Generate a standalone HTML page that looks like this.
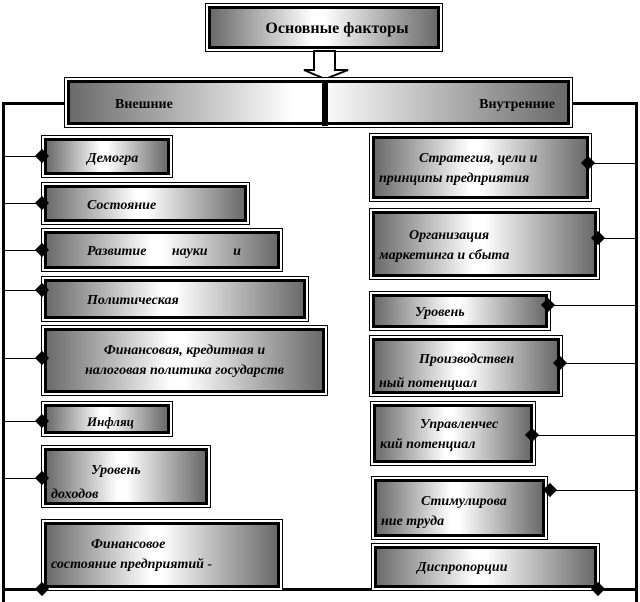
<!DOCTYPE html><html><head><meta charset="utf-8"><style>
body{margin:0;width:640px;height:602px;background:#fff;position:relative;overflow:hidden;font-family:"Liberation Serif",serif}
.b{position:absolute;box-sizing:border-box;border:1px solid #000;padding:2px;background:#fff}
.b>div{box-sizing:border-box;width:100%;height:100%;border:3px solid #000;background:linear-gradient(to right,#6a6a6a,#fff 45%,#fff 50%,#6a6a6a);font-weight:bold;font-style:italic;font-size:14px;line-height:20px;padding:4px 4px 0 4px;color:#000;overflow:hidden}
.l{position:absolute;background:#000}
.d{position:absolute;width:10px;height:10px;background:#000;transform:rotate(45deg)}
</style></head><body>
<div class="l" style="left:2px;top:102px;width:3px;height:500px"></div>
<div class="l" style="left:635px;top:102px;width:3px;height:500px"></div>
<div class="l" style="left:2px;top:102px;width:63px;height:3px"></div>
<div class="l" style="left:572px;top:102px;width:66px;height:3px"></div>
<div class="l" style="left:2px;top:588px;width:636px;height:3px"></div>

<div class="b" style="left:205px;top:3px;width:238px;height:49px"><div style="font-style:normal;font-size:16px;text-align:center;padding-top:10px;padding-left:30px">Основные факторы</div></div>
<svg style="position:absolute;left:300px;top:50px" width="52" height="30"><polygon points="14,1 35,1 35,20 48,20 25,29 4,20 14,20" fill="#fff" stroke="#000" stroke-width="2"/></svg>
<div class="b" style="left:64px;top:77px;width:509px;height:51px"><div style="font-style:normal;font-size:14px;padding-top:12px;position:relative"><span style="position:absolute;left:45px">Внешние</span><span style="position:absolute;right:12px">Внутренние</span></div></div>
<div class="l" style="left:322px;top:80px;width:6px;height:46px"></div>

<div class="l" style="left:2px;top:156px;width:40px;height:1px"></div>
<div class="l" style="left:2px;top:203px;width:40px;height:1px"></div>
<div class="l" style="left:2px;top:250px;width:40px;height:1px"></div>
<div class="l" style="left:2px;top:290px;width:40px;height:1px"></div>
<div class="l" style="left:2px;top:358px;width:40px;height:1px"></div>
<div class="l" style="left:2px;top:421px;width:40px;height:1px"></div>
<div class="l" style="left:2px;top:478px;width:40px;height:1px"></div>

<div class="b" style="left:41px;top:135px;width:132px;height:43px"><div style="padding-left:40px;padding-top:8px">Демогра</div></div>
<div class="b" style="left:41px;top:182px;width:209px;height:43px"><div style="padding-left:40px;padding-top:8px">Состояние</div></div>
<div class="b" style="left:41px;top:228px;width:242px;height:44px"><div style="padding-left:40px;padding-top:8px;word-spacing:22px">Развитие науки и</div></div>
<div class="b" style="left:41px;top:276px;width:268px;height:46px"><div style="padding-left:40px;padding-top:9px">Политическая</div></div>
<div class="b" style="left:41px;top:325px;width:287px;height:71px"><div style="padding-top:10px;text-align:center">Финансовая, кредитная и<br>налоговая политика государств</div></div>
<div class="b" style="left:41px;top:401px;width:132px;height:36px"><div style="padding-left:40px;padding-top:5px;font-size:13px">Инфляц</div></div>
<div class="b" style="left:41px;top:445px;width:170px;height:63px"><div style="padding-top:8px;line-height:24px"><span style="margin-left:40px">Уровень</span><br>доходов</div></div>
<div class="b" style="left:41px;top:519px;width:242px;height:72px"><div style="padding-top:10px;text-indent:40px">Финансовое<br>состояние предприятий -</div></div>

<div class="d" style="left:37px;top:151px"></div>
<div class="d" style="left:37px;top:198px"></div>
<div class="d" style="left:37px;top:245px"></div>
<div class="d" style="left:37px;top:285px"></div>
<div class="d" style="left:37px;top:353px"></div>
<div class="d" style="left:37px;top:416px"></div>
<div class="d" style="left:37px;top:473px"></div>
<div class="d" style="left:37px;top:584px"></div>

<div class="l" style="left:588px;top:163px;width:48px;height:1px"></div>
<div class="l" style="left:598px;top:238px;width:38px;height:1px"></div>
<div class="l" style="left:548px;top:305px;width:88px;height:1px"></div>
<div class="l" style="left:560px;top:363px;width:76px;height:1px"></div>
<div class="l" style="left:532px;top:435px;width:104px;height:1px"></div>
<div class="l" style="left:550px;top:490px;width:86px;height:1px"></div>

<div class="b" style="left:369px;top:133px;width:223px;height:69px"><div style="padding-top:10px;text-indent:40px">Стратегия, цели и<br>принципы предприятия</div></div>
<div class="b" style="left:369px;top:208px;width:231px;height:72px"><div style="padding-top:12px;text-indent:30px">Организация<br>маркетинга и сбыта</div></div>
<div class="b" style="left:369px;top:291px;width:182px;height:40px"><div style="padding-left:40px;padding-top:6px">Уровень</div></div>
<div class="b" style="left:369px;top:335px;width:194px;height:62px"><div style="padding-top:7px;text-indent:40px;line-height:24px">Производствен<br>ный потенциал</div></div>
<div class="b" style="left:370px;top:401px;width:166px;height:65px"><div style="padding-top:8px;text-indent:40px">Управленчес<br>кий потенциал</div></div>
<div class="b" style="left:371px;top:476px;width:177px;height:64px"><div style="padding-top:10px;text-indent:40px">Стимулирова<br>ние труда</div></div>
<div class="b" style="left:371px;top:543px;width:229px;height:48px"><div style="padding-top:9px;padding-left:40px">Диспропорции</div></div>

<div class="d" style="left:583px;top:158px"></div>
<div class="d" style="left:593px;top:233px"></div>
<div class="d" style="left:543px;top:300px"></div>
<div class="d" style="left:555px;top:358px"></div>
<div class="d" style="left:527px;top:430px"></div>
<div class="d" style="left:545px;top:485px"></div>
<div class="d" style="left:593px;top:584px"></div>
</body></html>
